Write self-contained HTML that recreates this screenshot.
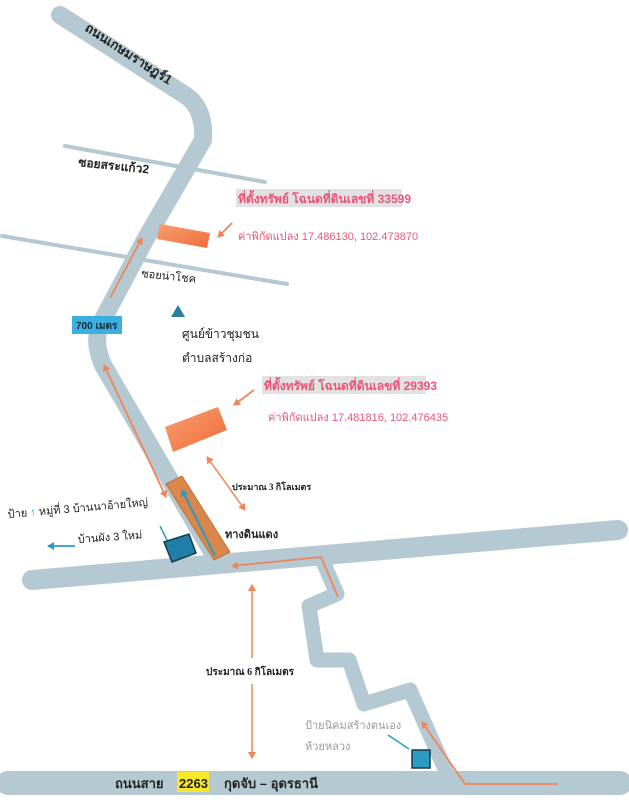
<!DOCTYPE html>
<html><head><meta charset="utf-8"><style>
body{margin:0;background:#fff;}
svg{display:block;font-family:"Liberation Sans","Noto Sans CJK SC","WenQuanYi Zen Hei",sans-serif;}
</style></head><body>
<svg width="629" height="800" viewBox="0 0 629 800" xmlns="http://www.w3.org/2000/svg">
<defs>
<marker id="ah" markerWidth="8" markerHeight="8" refX="6" refY="4" orient="auto" markerUnits="userSpaceOnUse"><path d="M0,0 L7,4 L0,8 Z" fill="#f0845a"/></marker>
<marker id="ahs" markerWidth="8" markerHeight="8" refX="2" refY="4" orient="auto" markerUnits="userSpaceOnUse"><path d="M8,0 L1,4 L8,8 Z" fill="#f0845a"/></marker>
<marker id="bh" markerWidth="8" markerHeight="8" refX="6" refY="4" orient="auto" markerUnits="userSpaceOnUse"><path d="M0,0 L7,4 L0,8 Z" fill="#2a9cc4"/></marker>
<linearGradient id="og" x1="0" y1="0" x2="1" y2="1"><stop offset="0" stop-color="#f7a070"/><stop offset="1" stop-color="#f06a3a"/></linearGradient>
</defs>
<g stroke="#b5c9d2" fill="none" stroke-linecap="round" stroke-linejoin="round">
<line x1="65" y1="146" x2="265" y2="182" stroke-width="4"/>
<line x1="2" y1="236" x2="287" y2="284" stroke-width="4"/>
<path d="M60,15 L185,95 Q205,108 203,140 L145,240 L100,325 Q93,342 103,365 L170,480 L218,562" stroke-width="18"/>
<path d="M32,580 L618,530" stroke-width="20"/>
<path d="M321,557 L337,594 L309,606 L317,660 L349,660 L364,704 L410,690 L448,776" stroke-width="15"/>
<path d="M8,783 L620,783" stroke-width="24"/>
</g>
<polygon points="166,484 182,476 230,552 214,560" fill="#d9874a" stroke="#c0703a" stroke-width="1"/>
<line x1="215" y1="556" x2="182" y2="490" stroke="#2a9cc4" stroke-width="2" marker-end="url(#bh)"/>
<line x1="110" y1="298" x2="142" y2="238" stroke="#f0845a" stroke-width="1.8" marker-end="url(#ah)"/>
<line x1="104" y1="365" x2="166" y2="497" stroke="#f0845a" stroke-width="1.8" marker-start="url(#ahs)" marker-end="url(#ah)"/>
<polyline points="338,597 321,557 232,566" fill="none" stroke="#f0845a" stroke-width="1.8" marker-end="url(#ah)"/>
<line x1="207" y1="457" x2="245" y2="510" stroke="#f0845a" stroke-width="1.5" marker-start="url(#ahs)" marker-end="url(#ah)"/>
<line x1="252" y1="585" x2="252" y2="658" stroke="#f0845a" stroke-width="1.5" marker-start="url(#ahs)"/>
<line x1="252" y1="684" x2="252" y2="758" stroke="#f0845a" stroke-width="1.5" marker-end="url(#ah)"/>
<polyline points="558,784 465,784 422,722" fill="none" stroke="#f0845a" stroke-width="1.8" marker-end="url(#ah)"/>
<line x1="254" y1="390" x2="234" y2="405" stroke="#f0845a" stroke-width="1.8" marker-end="url(#ah)"/>
<line x1="232" y1="223" x2="218" y2="237" stroke="#f0845a" stroke-width="1.8" marker-end="url(#ah)"/>
<polygon points="160,224 210,233 207,248 157,239" fill="url(#og)"/>
<polygon points="165,427 218,407 227,430 173,452" fill="url(#og)"/>
<rect x="72" y="316" width="50" height="18" fill="#3bb0e0"/>
<text x="76" y="329" font-size="10" font-weight="bold" fill="#1a2a3a">700 เมตร</text>
<polygon points="178,305 185,317 171,317" fill="#2a7fa0"/>
<text x="182" y="338" font-size="12" fill="#222">ศูนย์ข้าวชุมชน</text>
<text x="182" y="362" font-size="12" fill="#222">ตำบลสร้างก่อ</text>
<rect x="236" y="189" width="166" height="18" fill="#e2e2e2"/>
<text x="238" y="203" font-size="12" font-weight="bold" fill="#e8557a">ที่ตั้งทรัพย์ โฉนดที่ดินเลขที่ 33599</text>
<text x="238" y="240" font-size="11" fill="#e8557a">ค่าพิกัดแปลง 17.486130, 102.473870</text>
<rect x="262" y="376" width="164" height="18" fill="#e2e2e2"/>
<text x="264" y="390" font-size="12" font-weight="bold" fill="#e8557a">ที่ตั้งทรัพย์ โฉนดที่ดินเลขที่ 29393</text>
<text x="268" y="421" font-size="11" fill="#e8557a">ค่าพิกัดแปลง 17.481816, 102.476435</text>
<text x="0" y="0" font-size="13" font-weight="bold" fill="#222" transform="translate(84,30) rotate(33)">ถนนเกษมราษฎร์1</text>
<text x="0" y="0" font-size="12" font-weight="bold" fill="#222" transform="translate(78,166) rotate(6)">ซอยสระแก้ว2</text>
<text x="0" y="0" font-size="11" fill="#222" transform="translate(141,277) rotate(6)">ซอยน่าโชค</text>
<text x="232" y="490" font-size="9" font-weight="bold" fill="#222" font-family="Liberation Serif, Noto Serif CJK SC, serif">ประมาณ 3 กิโลเมตร</text>
<text x="225" y="538" font-size="11" font-weight="bold" fill="#222">ทางดินแดง</text>
<text x="0" y="0" font-size="11" fill="#222" transform="translate(8,518) rotate(-5)">ป้าย <tspan fill="#2a9cc4" font-weight="bold">↑</tspan> หมู่ที่ 3 บ้านนาอ้ายใหญ่</text>
<line x1="75" y1="546" x2="48" y2="546" stroke="#2a9cc4" stroke-width="1.8" marker-end="url(#bh)"/>
<text x="0" y="0" font-size="11" fill="#222" transform="translate(78,543) rotate(-4)">บ้านผัง 3 ใหม่</text>
<line x1="160" y1="526" x2="168" y2="542" stroke="#2a9cc4" stroke-width="1.5"/>
<polygon points="164,542 189,534 196,553 172,562" fill="#1f7fa8" stroke="#1a3a4a" stroke-width="1.5"/>
<text x="206" y="675" font-size="10" font-weight="bold" fill="#222" font-family="Liberation Serif, Noto Serif CJK SC, serif">ประมาณ 6 กิโลเมตร</text>
<text x="305" y="729" font-size="11" fill="#999">ป้ายนิคมสร้างตนเอง</text>
<text x="305" y="750" font-size="11" fill="#999">ห้วยหลวง</text>
<line x1="388" y1="735" x2="409" y2="749" stroke="#2a9cc4" stroke-width="1.5"/>
<rect x="412" y="750" width="18" height="18" fill="#2a9cc4" stroke="#1a3a4a" stroke-width="1.5"/>
<rect x="177" y="772" width="32" height="20" fill="#f7e92a"/>
<text x="115" y="788" font-size="13" font-weight="bold" fill="#222">ถนนสาย</text>
<text x="179" y="788" font-size="13" font-weight="bold" fill="#222">2263</text>
<text x="224" y="788" font-size="13" font-weight="bold" fill="#222">กุดจับ – อุดรธานี</text>
</svg>
</body></html>
